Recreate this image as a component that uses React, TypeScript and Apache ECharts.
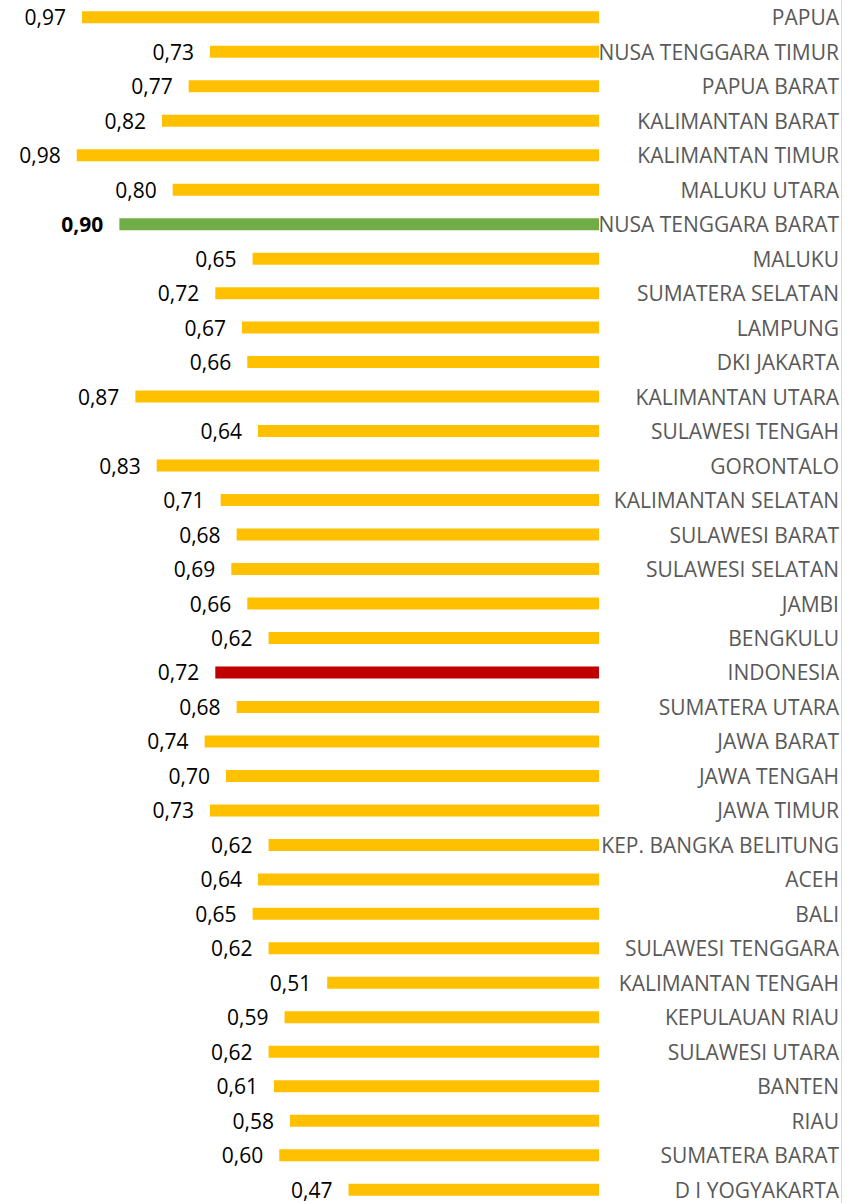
import React, { useEffect, useRef } from "react";
import * as echarts from "echarts";

const categories = [
  "PAPUA",
  "NUSA TENGGARA TIMUR",
  "PAPUA BARAT",
  "KALIMANTAN BARAT",
  "KALIMANTAN TIMUR",
  "MALUKU UTARA",
  "NUSA TENGGARA BARAT",
  "MALUKU",
  "SUMATERA SELATAN",
  "LAMPUNG",
  "DKI JAKARTA",
  "KALIMANTAN UTARA",
  "SULAWESI TENGAH",
  "GORONTALO",
  "KALIMANTAN SELATAN",
  "SULAWESI BARAT",
  "SULAWESI SELATAN",
  "JAMBI",
  "BENGKULU",
  "INDONESIA",
  "SUMATERA UTARA",
  "JAWA BARAT",
  "JAWA TENGAH",
  "JAWA TIMUR",
  "KEP. BANGKA BELITUNG",
  "ACEH",
  "BALI",
  "SULAWESI TENGGARA",
  "KALIMANTAN TENGAH",
  "KEPULAUAN RIAU",
  "SULAWESI UTARA",
  "BANTEN",
  "RIAU",
  "SUMATERA BARAT",
  "D I YOGYAKARTA",
];

const values = [
  0.97, 0.73, 0.77, 0.82, 0.98, 0.8, 0.9, 0.65, 0.72, 0.67, 0.66, 0.87, 0.64,
  0.83, 0.71, 0.68, 0.69, 0.66, 0.62, 0.72, 0.68, 0.74, 0.7, 0.73, 0.62, 0.64,
  0.65, 0.62, 0.51, 0.59, 0.62, 0.61, 0.58, 0.6, 0.47,
];

const greenCategory = "NUSA TENGGARA BARAT";
const redCategory = "INDONESIA";

export default function App() {
  const ref = useRef<HTMLDivElement>(null);
  useEffect(() => {
    document.body.style.margin = "0";
    document.body.style.overflow = "hidden";
    const chart = echarts.init(ref.current!, null, { renderer: "svg" });
    const data = values.map((v, i) => {
      const c = categories[i];
      const item: any = { value: v };
      if (c === greenCategory) {
        item.itemStyle = { color: "#70AD47" };
        item.label = { fontWeight: "bold" };
      } else if (c === redCategory) {
        item.itemStyle = { color: "#C00000" };
      }
      return item;
    });
    chart.setOption({
      animation: false,
      grid: { left: 0, right: 248, top: 0, bottom: 0, containLabel: false },
      xAxis: { type: "value", inverse: true, min: 0, max: 1.124, show: false },
      yAxis: {
        type: "category",
        data: categories,
        inverse: true,
        position: "right",
        axisLine: { show: false },
        axisTick: { show: false },
        splitLine: { show: false },
        axisLabel: {
          align: "right",
          margin: 240,
          color: "#595959",
          fontSize: 21,
          fontFamily: "Open Sans",
          interval: 0,
        },
      },
      series: [
        {
          type: "bar",
          data,
          barWidth: 12,
          itemStyle: { color: "#FFC000" },
          label: {
            show: true,
            position: "left",
            distance: 16,
            formatter: (p: any) => p.value.toFixed(2).replace(".", ","),
            color: "#000000",
            fontSize: 21,
            fontFamily: "Open Sans",
          },
        },
      ],
      graphic: [
        {
          type: "line",
          shape: { x1: 841.5, y1: 0, x2: 841.5, y2: 1207 },
          style: { stroke: "#d9d9d9", lineWidth: 1 },
        },
      ],
    });
    return () => chart.dispose();
  }, []);
  return (
    <div style={{ width: 847, height: 1203, overflow: "hidden" }}>
      <div ref={ref} style={{ width: 847, height: 1207 }} />
    </div>
  );
}
